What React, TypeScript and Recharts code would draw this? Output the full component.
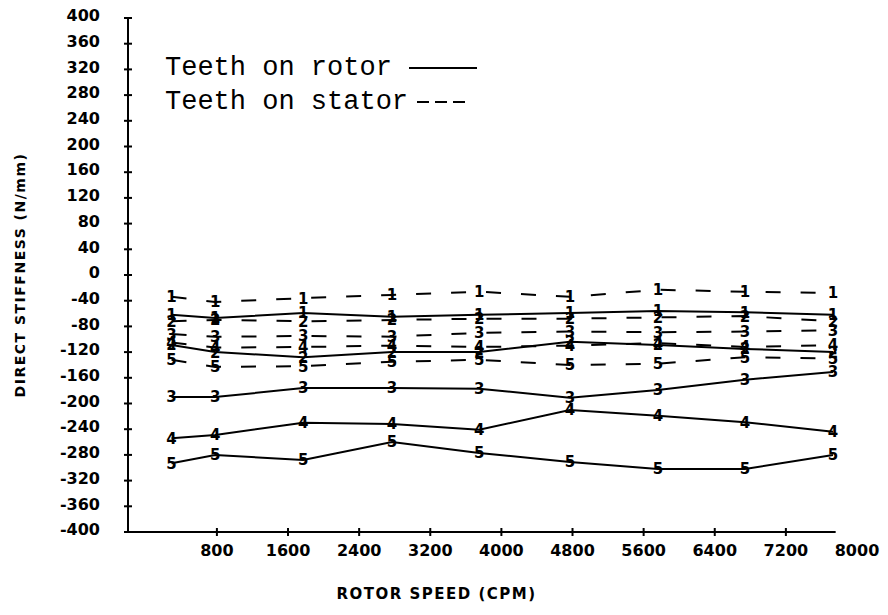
import React from 'react';
import { LineChart, Line, XAxis, YAxis, ReferenceLine, Legend, Label } from 'recharts';

const speeds = [290, 780, 1770, 2770, 3750, 4770, 5760, 6740, 7730];

const rotor1 = [-62, -67, -59, -65, -62, -59, -56, -58, -62];
const rotor2 = [-109, -120, -128, -120, -120, -104, -109, -115, -120];
const rotor3 = [-190, -190, -176, -176, -177, -191, -179, -163, -151];
const rotor4 = [-254, -249, -230, -232, -241, -210, -219, -229, -244];
const rotor5 = [-293, -280, -288, -260, -277, -291, -302, -302, -280];

const stator1 = [-34, -42, -36, -31, -26, -34, -23, -26, -28];
const stator2 = [-72, -70, -72, -70, -68, -68, -66, -64, -72];
const stator3 = [-92, -96, -95, -96, -90, -88, -89, -88, -86];
const stator4 = [-105, -113, -112, -110, -112, -110, -106, -112, -109];
const stator5 = [-132, -143, -142, -135, -132, -140, -138, -128, -130];

const yTicks = [400, 360, 320, 280, 240, 200, 160, 120, 80, 40, 0, -40, -80, -120, -160, -200, -240, -280, -320, -360, -400];
const xTicks = [800, 1600, 2400, 3200, 4000, 4800, 5600, 6400, 7200, 8000];

const data = speeds.map((s, i) => ({
  speed: s,
  r1: rotor1[i], r2: rotor2[i], r3: rotor3[i], r4: rotor4[i], r5: rotor5[i],
  s1: stator1[i], s2: stator2[i], s3: stator3[i], s4: stator4[i], s5: stator5[i],
}));

const PLOT_FONT = '"DejaVu Sans", sans-serif';

const makeDot = (label: string) => (props: any) => {
  const { cx, cy, index } = props;
  if (cx == null || cy == null) return <g key={`${label}-e-${index}`} />;
  return (
    <text key={`${label}-${index}`} x={cx} y={cy} dy="0.36em" textAnchor="middle"
      fontFamily={PLOT_FONT} fontWeight="bold" fontSize={15} fill="#000">{label}</text>
  );
};

const YTick = (props: any) => {
  const { x, y, payload } = props;
  const ax = x + 28;
  return (
    <g>
      <line x1={ax - 4} x2={ax + 4} y1={y} y2={y} stroke="#000" strokeWidth={2} />
      <text x={x} y={y} dy="0.2em" textAnchor="end" fontFamily={PLOT_FONT} fontWeight="bold" fontSize={16} fill="#000">{payload.value}</text>
    </g>
  );
};

const XTick = (props: any) => {
  const { x, y, payload } = props;
  const ay = y - 13;
  return (
    <g>
      {payload.value < 8000 ? <line x1={x} x2={x} y1={ay - 4} y2={ay + 4} stroke="#000" strokeWidth={2} /> : null}
      <text x={x} y={y} dy="0.71em" textAnchor="middle" fontFamily={PLOT_FONT} fontWeight="bold" fontSize={16} fill="#000">{payload.value}</text>
    </g>
  );
};

const LegendBox = () => (
  <div style={{ fontFamily: '"Liberation Mono", "Courier New", monospace', fontSize: 27, lineHeight: '34px', color: '#000' }}>
    <div style={{ display: 'flex', alignItems: 'center', whiteSpace: 'pre' }}>
      <span>Teeth on rotor</span>
      <svg width={85} height={34}><line x1={17} y1={17} x2={85} y2={17} stroke="#000" strokeWidth={2} /></svg>
    </div>
    <div style={{ display: 'flex', alignItems: 'center', whiteSpace: 'pre' }}>
      <span>Teeth on stator</span>
      <svg width={57} height={34}><line x1={9} y1={17} x2={57} y2={17} stroke="#000" strokeWidth={2} strokeDasharray="12 6" /></svg>
    </div>
  </div>
);

const rotorSeries = [
  { key: 'r1', label: '1' }, { key: 'r2', label: '2' }, { key: 'r3', label: '3' },
  { key: 'r4', label: '4' }, { key: 'r5', label: '5' },
];
const statorSeries = [
  { key: 's1', label: '1' }, { key: 's2', label: '2' }, { key: 's3', label: '3' },
  { key: 's4', label: '4' }, { key: 's5', label: '5' },
];

export default function App() {
  return (
    <div style={{ position: 'absolute', left: 0, top: 0, width: 888, height: 615, background: '#fff' }}>
      <LineChart width={888} height={615} data={data} margin={{ top: 18, right: 31, bottom: 53, left: 48 }}>
        <XAxis dataKey="speed" type="number" domain={[-200, 8000]} ticks={xTicks} interval={0}
          axisLine={false} tickLine={false} tickSize={0} tickMargin={13} tick={<XTick />} height={30} allowDataOverflow>
          <Label value="ROTOR SPEED (CPM)" position="bottom" offset={26} dx={-56}
            style={{ fontFamily: PLOT_FONT, fontWeight: 'bold', fontSize: 15, letterSpacing: 1.5, fill: '#000' }} />
        </XAxis>
        <YAxis type="number" domain={[-400, 400]} ticks={yTicks} interval={0} width={80}
          axisLine={{ stroke: '#000', strokeWidth: 2 }} tickLine={false} tickSize={0} tickMargin={28} tick={<YTick />}>
          <Label value="DIRECT STIFFNESS (N/mm)" angle={-90} position="left" offset={28}
            style={{ fontFamily: PLOT_FONT, fontWeight: 'bold', fontSize: 14, letterSpacing: 1.5, fill: '#000', textAnchor: 'middle' }} />
        </YAxis>
        <ReferenceLine segment={[{ x: -200, y: -400 }, { x: 7760, y: -400 }]} stroke="#000" strokeWidth={2} ifOverflow="visible" />
        <Legend layout="vertical" align="center" verticalAlign="middle" content={() => <LegendBox />}
          wrapperStyle={{ top: 51, left: 165, width: 'auto' }} />
        {rotorSeries.map((s) => (
          <Line key={s.key} dataKey={s.key} stroke="#000" strokeWidth={2} isAnimationActive={false}
            dot={makeDot(s.label)} activeDot={false} legendType="none" />
        ))}
        {statorSeries.map((s) => (
          <Line key={s.key} dataKey={s.key} stroke="#000" strokeWidth={2} strokeDasharray="15 20" isAnimationActive={false}
            dot={makeDot(s.label)} activeDot={false} legendType="none" />
        ))}
      </LineChart>
    </div>
  );
}
